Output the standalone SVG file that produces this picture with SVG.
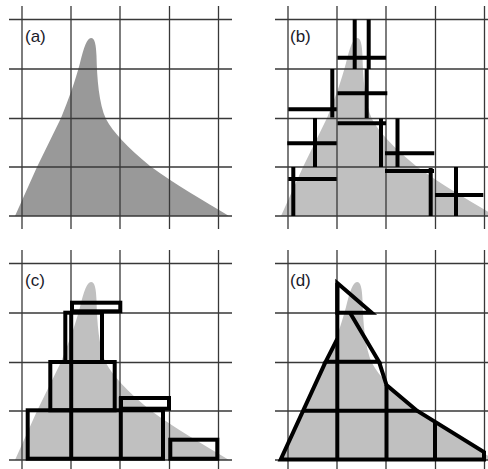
<svg xmlns="http://www.w3.org/2000/svg" xmlns:xlink="http://www.w3.org/1999/xlink" width="488" height="469" viewBox="0 0 488 469">
<style>
.grid{fill:none;stroke:#383838;stroke-width:1.3}
.thick{fill:none;stroke:#000;stroke-width:4;stroke-linejoin:miter}
.lbl{font-family:"Liberation Sans",Arial,sans-serif;font-size:17px;fill:#1a1a2a}
</style>
<defs>
<path id="shape" d="M15,216 L37,167 L61,118 C69,98 75,82 80,63 C84,47 87,38 91,38 C95,38 96,45 96.5,56 C97,78 99,104 106,119 C113,132 127,147 150,166 C176,185 204,201 229,216 Z"/>
<path id="grid" d="M9,19.5H232M9,69H232M9,118.5H232M9,167H232M9,216H232M22,6V229M71,6V229M120,6V229M169.5,6V229M218.5,6V229"/>
</defs>
<g id="panel-a">
<use xlink:href="#shape" fill="#999"/>
<use xlink:href="#grid" class="grid"/>
<text class="lbl" x="25" y="42">(a)</text>
</g>
<g id="panel-b">
<use xlink:href="#shape" fill="#c0c0c0" transform="translate(266,0)"/>
<use xlink:href="#grid" class="grid" transform="translate(266,0)"/>
<text class="lbl" x="290" y="42">(b)</text>
<path class="thick" d="M354.7,19.5V69M368.7,19.5V69M332.3,69V117.5M366.7,69V118M315,118V167M381,118.5V167M397.5,118.5V167M293.3,167V216M430.7,168V216M456,167V216M337.5,57.7H386M288.3,109.3H336.7M337.5,93.3H387.3M337.5,123.3H386M287.3,143.3H336.7M385,153.3H434.3M385,171H434M288.3,179H336.7M435,195H483.3"/>
</g>
<g id="panel-c">
<use xlink:href="#shape" fill="#c0c0c0" transform="translate(0,244)"/>
<use xlink:href="#grid" class="grid" transform="translate(0,244)"/>
<text class="lbl" x="25" y="286">(c)</text>
<rect class="thick" x="27.7" y="410.3" width="135.3" height="48.4"/>
<rect class="thick" x="50.3" y="362" width="64.4" height="48.3"/>
<rect class="thick" x="65.3" y="312.7" width="36.7" height="49.3"/>
<rect class="thick" x="72" y="302.7" width="48.3" height="8.6"/>
<rect class="thick" x="121" y="398" width="48" height="10.7"/>
<rect class="thick" x="170.3" y="439.7" width="47" height="19"/>
<path class="thick" d="M71.2,311V458.7M120.8,396.7V458.7"/>
</g>
<g id="panel-d">
<use xlink:href="#shape" fill="#c0c0c0" transform="translate(266,244)"/>
<use xlink:href="#grid" class="grid" transform="translate(266,244)"/>
<text class="lbl" x="290" y="286">(d)</text>
<path class="thick" d="M337.3,283L371.7,312.7H337.3Z"/>
<path class="thick" d="M350,312.7L379,361.7H325.7L337.3,339"/>
<path class="thick" d="M325.7,361.7L280.7,459.5H484V452L417,410.7L386.5,385L379,361.7"/>
<path class="thick" d="M337.3,283V459.5M386.5,385V459.5M435,421.5V459.5M303.3,410.7H417"/>
</g>
</svg>
